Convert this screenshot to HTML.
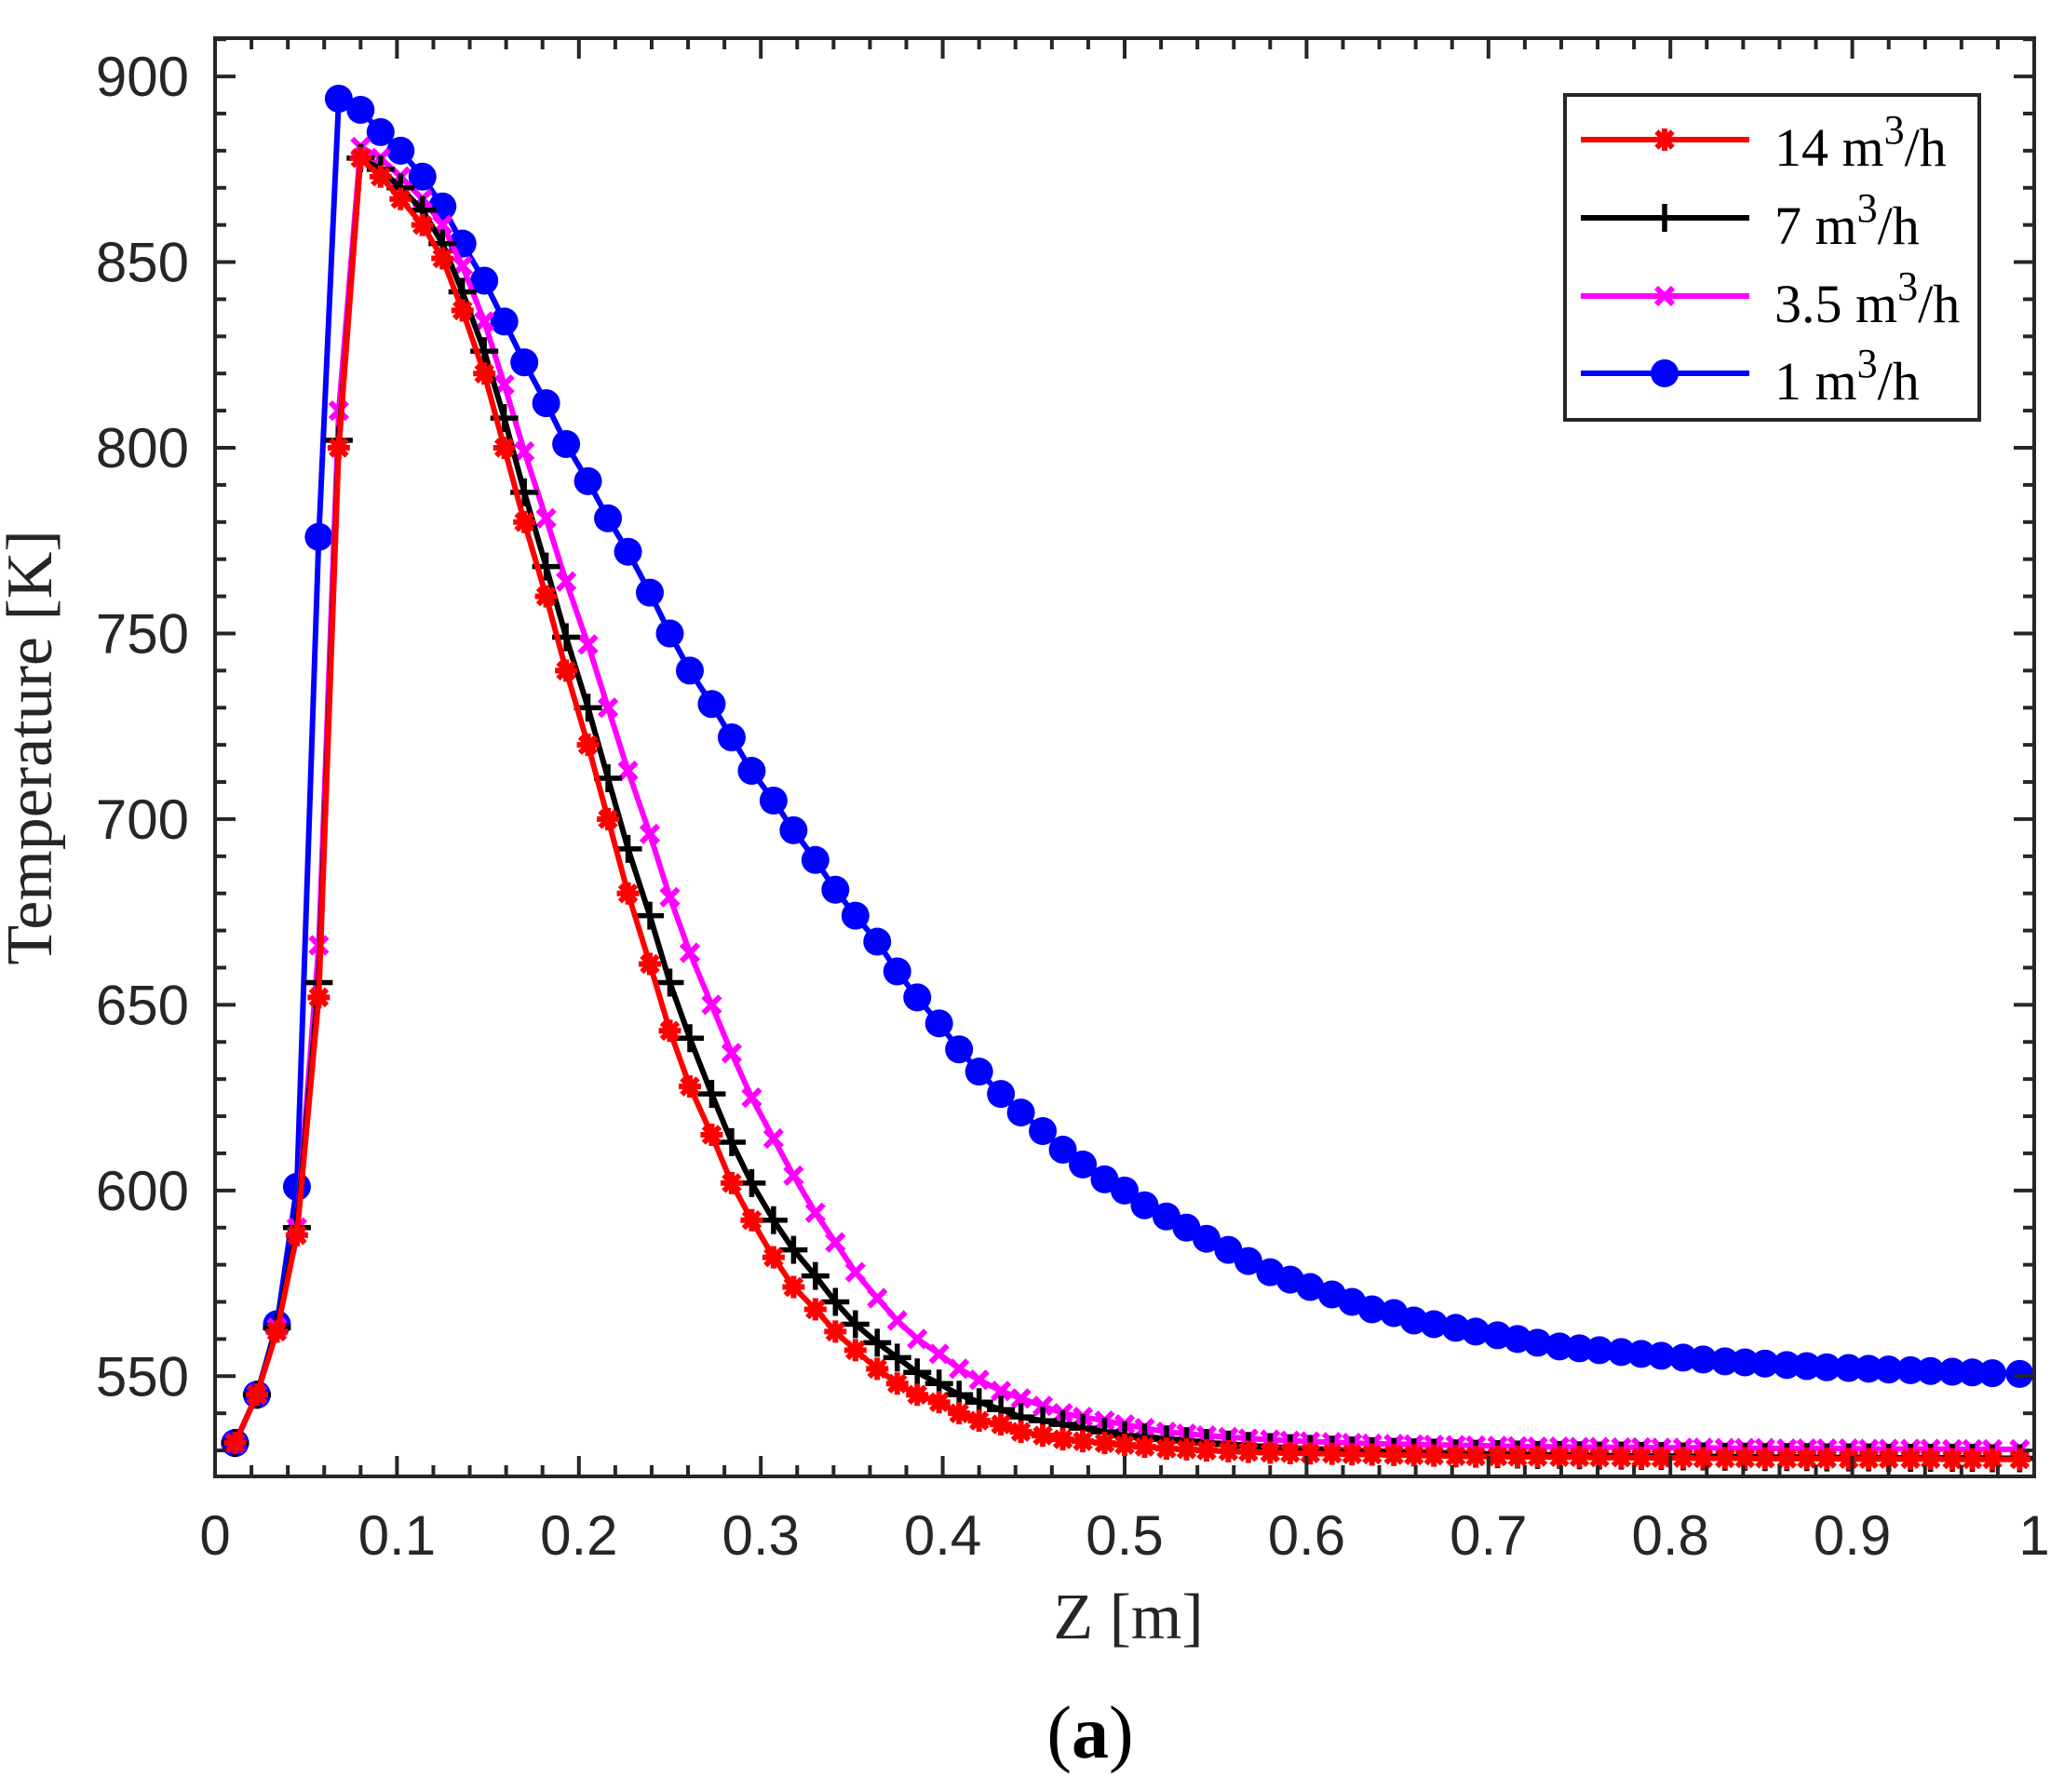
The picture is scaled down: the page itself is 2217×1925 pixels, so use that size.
<!DOCTYPE html>
<html><head><meta charset="utf-8"><style>
html,body{margin:0;padding:0;background:#fff;}
svg{display:block;}
</style></head><body>
<svg id="chart" width="2217" height="1925" viewBox="0 0 2217 1925" xmlns="http://www.w3.org/2000/svg">
<rect x="0" y="0" width="2217" height="1925" fill="#fff"/>
<g id="plot"></g>
<g id="axes"></g>
<text transform="translate(55,803) rotate(-90)" text-anchor="middle" font-family="'Liberation Serif',serif" font-size="70" fill="#262626">Temperature [K]</text>
<text x="1212" y="1760" text-anchor="middle" font-family="'Liberation Serif',serif" font-size="70" fill="#262626">Z [m]</text>
<text x="1171" y="1888" text-anchor="middle" font-family="'Liberation Serif',serif" font-size="80" fill="#000"><tspan>(</tspan><tspan font-weight="bold">a</tspan><tspan>)</tspan></text>
<g id="legend"></g>
</svg>
<script>
const zValues = [0.011,0.023,0.034,0.045,0.057,0.068,0.080,0.091,0.102,0.114,0.125,0.136,0.148,0.159,0.170,0.182,0.193,0.205,0.216,0.227,0.239,0.250,0.261,0.273,0.284,0.295,0.307,0.318,0.330,0.341,0.352,0.364,0.375,0.386,0.398,0.409,0.420,0.432,0.443,0.455,0.466,0.477,0.489,0.500,0.511,0.523,0.534,0.545,0.557,0.568,0.580,0.591,0.602,0.614,0.625,0.636,0.648,0.659,0.670,0.682,0.693,0.705,0.716,0.727,0.739,0.750,0.761,0.773,0.784,0.795,0.807,0.818,0.830,0.841,0.852,0.864,0.875,0.886,0.898,0.909,0.920,0.932,0.943,0.955,0.966,0.977,0.992];
const seriesNames = ["14 m3/h","7 m3/h","3.5 m3/h","1 m3/h"];
const t14 = [532,545,562,588,652,800,878,873,867,860,851,837,820,800,780,760,740,720,700,680,661,643,628,615,602,592,582,574,568,562,557,552,548,545,543,540,538,537,535,534,533,532.5,532,531.5,531,530.5,530.3,530,529.8,529.6,529.4,529.3,529.2,529.1,529,528.9,528.8,528.7,528.6,528.5,528.4,528.4,528.3,528.3,528.2,528.2,528.1,528.1,528,528,528,527.9,527.9,527.9,527.8,527.8,527.8,527.8,527.7,527.7,527.7,527.7,527.7,527.6,527.6,527.6,527.6];
const t7 = [532,545,563,590,656,802,878,875,870,864,855,842,826,808,788,768,749,730,711,692,674,656,641,626,613,602,592,584,577,570,564,559,555,551,548,545,543,541,539,538,537,536,535,534,533.5,533,532.5,532,531.6,531.2,530.9,530.6,530.4,530.2,530,529.8,529.6,529.5,529.4,529.2,529.1,529,528.9,528.8,528.8,528.7,528.6,528.6,528.5,528.5,528.4,528.4,528.3,528.3,528.2,528.2,528.2,528.1,528.1,528.1,528,528,528,528,528,527.9,527.9];
const t35 = [532,545,563,590,666,810,881,878,873,867,860,849,834,817,799,781,764,747,730,713,696,679,664,650,637,625,614,604,594,586,578,571,565,560,556,552,549,546,544,542,540,539,538,537,536,535,534.5,534,533.6,533.2,532.9,532.6,532.4,532.2,532,531.8,531.7,531.6,531.5,531.4,531.3,531.2,531.1,531,531,530.9,530.9,530.8,530.8,530.7,530.7,530.7,530.6,530.6,530.6,530.5,530.5,530.5,530.5,530.4,530.4,530.4,530.4,530.3,530.3,530.3,530.3];
const t1 = [532,545,564,601,776,894,891,885,880,873,865,855,845,834,823,812,801,791,781,772,761,750,740,731,722,713,705,697,689,681,674,667,659,652,645,638,632,626,621,616,611,607,603,600,596,593,590,587,584,581,578,576,574,572,570,568,567,565,564,563,562,561,560,559,558,557.5,557,556.5,556,555.5,555,554.5,554,553.7,553.4,553,552.7,552.4,552.2,552,551.8,551.6,551.4,551.2,551,550.8,550.6];
const xTickLabels = ["0","0.1","0.2","0.3","0.4","0.5","0.6","0.7","0.8","0.9","1"];
const yTickLabels = ["550","600","650","700","750","800","850","900"];

const NS="http://www.w3.org/2000/svg";
const L=231,R=2185,T=41,B=1586;
const XMIN=0,XMAX=1,YMIN=523,YMAX=910.3;
function xs(v){return L+(v-XMIN)/(XMAX-XMIN)*(R-L);}
function ys(v){return B-(v-YMIN)/(YMAX-YMIN)*(B-T);}
function mk(tag,attrs,parent){const e=document.createElementNS(NS,tag);for(const k in attrs)e.setAttribute(k,attrs[k]);parent.appendChild(e);return e;}
const plot=document.getElementById('plot');
const axes=document.getElementById('axes');
const legend=document.getElementById('legend');

function drawMarker(type,cx,cy,color,g){
  let m;
  if(type==='star'){
    const s=12;
    m=mk('path',{d:`M${cx-s},${cy}H${cx+s}M${cx},${cy-s}V${cy+s}M${cx-s*0.72},${cy-s*0.72}L${cx+s*0.72},${cy+s*0.72}M${cx-s*0.72},${cy+s*0.72}L${cx+s*0.72},${cy-s*0.72}`,stroke:color,'stroke-width':6,fill:'none'},g);
  }else if(type==='plus'){
    const s=15;
    m=mk('path',{d:`M${cx-s},${cy}H${cx+s}M${cx},${cy-s}V${cy+s}`,stroke:color,'stroke-width':5.5,fill:'none'},g);
  }else if(type==='x'){
    const s=9;
    m=mk('path',{d:`M${cx-s},${cy-s}L${cx+s},${cy+s}M${cx-s},${cy+s}L${cx+s},${cy-s}`,stroke:color,'stroke-width':6,fill:'none'},g);
  }else{
    m=mk('circle',{cx:cx,cy:cy,r:15,fill:color},g);
  }
  return m;
}

const series=[
  {vals:t14,color:'#ff0000',marker:'star',name:'series-14'},
  {vals:t7,color:'#000000',marker:'plus',name:'series-7'},
  {vals:t35,color:'#ff00ff',marker:'x',name:'series-3-5'},
  {vals:t1,color:'#0000ff',marker:'circle',name:'series-1'}
];
const clip=mk('clipPath',{id:'pc'},plot);
mk('rect',{x:L,y:T,width:R-L,height:B-T},clip);
series.slice().reverse().forEach(s=>{
  const g=mk('g',{'clip-path':'url(#pc)'},plot);
  
  
  const pts=zValues.map((z,i)=>xs(z).toFixed(1)+','+ys(s.vals[i]).toFixed(1)).join(' ');
  const line=mk('polyline',{points:pts,fill:'none',stroke:s.color,'stroke-width':6,'stroke-linejoin':'round'},g);
  
  
  zValues.forEach((z,i)=>{
    const m=drawMarker(s.marker,xs(z),ys(s.vals[i]),s.color,g);
    
    
  });
});

const box=mk('rect',{x:L,y:T,width:R-L,height:B-T,fill:'none',stroke:'#262626','stroke-width':4},axes);


const tk=mk('g',{stroke:'#262626','stroke-width':4},axes);


for(let i=0;i<=50;i++){
  const v=i*0.02, x=xs(v), len=(i%5===0)?22:12;
  mk('line',{x1:x,y1:B,x2:x,y2:B-len},tk);
  mk('line',{x1:x,y1:T,x2:x,y2:T+len},tk);
}
for(let v=530;v<=910;v+=10){
  const y=ys(v), len=(v%50===0)?22:12;
  mk('line',{x1:L,y1:y,x2:L+len,y2:y},tk);
  mk('line',{x1:R,y1:y,x2:R-len,y2:y},tk);
}
xTickLabels.forEach(lbl=>{
  const t=mk('text',{x:xs(parseFloat(lbl)),y:1670,'text-anchor':'middle','font-family':"'Liberation Sans',sans-serif",'font-size':60,fill:'#262626'},axes);
  t.textContent=lbl;
  
  
});
yTickLabels.forEach(lbl=>{
  const t=mk('text',{x:203,y:ys(parseFloat(lbl))+21,'text-anchor':'end','font-family':"'Liberation Sans',sans-serif",'font-size':60,fill:'#262626'},axes);
  t.textContent=lbl;
  
  
});

const lb=mk('rect',{x:1681,y:102,width:445,height:349,fill:'#fff',stroke:'#262626','stroke-width':4},legend);


const labels=[["14"],["7"],["3.5"],["1"]];
const ly=[150,234,318,401];
series.forEach((s,i)=>{
  const g=mk('g',{},legend);
  
  
  mk('line',{x1:1698,y1:ly[i],x2:1879,y2:ly[i],stroke:s.color,'stroke-width':6},g);
  drawMarker(s.marker,1788,ly[i],s.color,g);
  const t=mk('text',{x:1906,y:ly[i]+28,'font-family':"'Liberation Serif',serif",'font-size':58,fill:'#000'},g);
  t.innerHTML=labels[i][0]+' m<tspan dy="-24" font-size="44">3</tspan><tspan dy="24">/h</tspan>';
});
</script>
</body></html>
